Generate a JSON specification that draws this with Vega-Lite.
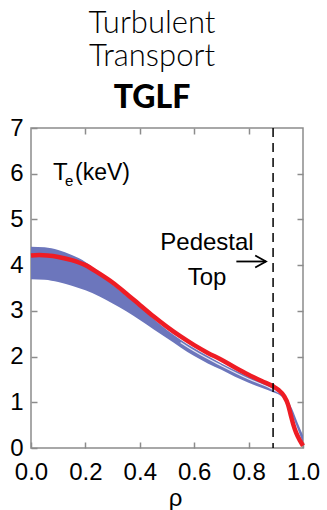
{
  "$schema": "https://vega.github.io/schema/vega-lite/v6.json",
  "width": 272,
  "height": 320,
  "autosize": {"type": "none"},
  "padding": {"left": 31, "top": 128, "right": 24, "bottom": 62},
  "background": "white",
  "config": {
    "view": {"stroke": "#8c8c8c", "strokeWidth": 1.5},
    "font": "Liberation Sans"
  },
  "title": {
    "text": ["Turbulent", "Transport"],
    "subtitle": "TGLF",
    "font": "Lato",
    "fontWeight": 300,
    "fontSize": 31,
    "lineHeight": 33,
    "color": "black",
    "subtitleFont": "Lato",
    "subtitleFontWeight": 900,
    "subtitleFontSize": 32,
    "subtitleColor": "black",
    "subtitlePadding": 10,
    "anchor": "middle",
    "dx": -15,
    "offset": 1
  },
  "datasets": {
    "band": [
      {"rho": 0.0, "lo": 3.69, "hi": 4.40},
      {"rho": 0.05, "lo": 3.68, "hi": 4.39},
      {"rho": 0.1, "lo": 3.63, "hi": 4.33},
      {"rho": 0.15, "lo": 3.55, "hi": 4.22},
      {"rho": 0.2, "lo": 3.45, "hi": 4.07},
      {"rho": 0.25, "lo": 3.32, "hi": 3.84},
      {"rho": 0.3, "lo": 3.16, "hi": 3.57},
      {"rho": 0.35, "lo": 2.99, "hi": 3.33},
      {"rho": 0.4, "lo": 2.80, "hi": 3.09},
      {"rho": 0.45, "lo": 2.60, "hi": 2.83},
      {"rho": 0.5, "lo": 2.40, "hi": 2.58},
      {"rho": 0.55, "lo": 2.20, "hi": 2.37},
      {"rho": 0.6, "lo": 2.01, "hi": 2.18},
      {"rho": 0.65, "lo": 1.85, "hi": 2.01},
      {"rho": 0.7, "lo": 1.71, "hi": 1.85},
      {"rho": 0.75, "lo": 1.56, "hi": 1.70},
      {"rho": 0.8, "lo": 1.43, "hi": 1.56},
      {"rho": 0.85, "lo": 1.31, "hi": 1.44},
      {"rho": 0.89, "lo": 1.22, "hi": 1.33},
      {"rho": 0.92, "lo": 1.13, "hi": 1.22},
      {"rho": 0.94, "lo": 0.98, "hi": 1.08},
      {"rho": 0.96, "lo": 0.72, "hi": 0.86},
      {"rho": 0.98, "lo": 0.42, "hi": 0.56},
      {"rho": 1.0, "lo": 0.10, "hi": 0.28}
    ],
    "mid": [
      {"rho": 0.55, "te": 2.31},
      {"rho": 0.6, "te": 2.12},
      {"rho": 0.7, "te": 1.80},
      {"rho": 0.8, "te": 1.51},
      {"rho": 0.88, "te": 1.31},
      {"rho": 0.92, "te": 1.19}
    ],
    "red": [
      {"rho": 0.0, "te": 4.21},
      {"rho": 0.03, "te": 4.22},
      {"rho": 0.06, "te": 4.21},
      {"rho": 0.1, "te": 4.18},
      {"rho": 0.15, "te": 4.11},
      {"rho": 0.2, "te": 4.0},
      {"rho": 0.25, "te": 3.82},
      {"rho": 0.3, "te": 3.62},
      {"rho": 0.35, "te": 3.38},
      {"rho": 0.4, "te": 3.13},
      {"rho": 0.45, "te": 2.88},
      {"rho": 0.5, "te": 2.65},
      {"rho": 0.55, "te": 2.44},
      {"rho": 0.6, "te": 2.25},
      {"rho": 0.65, "te": 2.08},
      {"rho": 0.7, "te": 1.93},
      {"rho": 0.75, "te": 1.76},
      {"rho": 0.8, "te": 1.60},
      {"rho": 0.85, "te": 1.46},
      {"rho": 0.89, "te": 1.35},
      {"rho": 0.91, "te": 1.27},
      {"rho": 0.93, "te": 1.14},
      {"rho": 0.945, "te": 0.95},
      {"rho": 0.955, "te": 0.72},
      {"rho": 0.965, "te": 0.50},
      {"rho": 0.975, "te": 0.33},
      {"rho": 0.99, "te": 0.15},
      {"rho": 1.0, "te": 0.05}
    ],
    "ped": [{"rho": 0.89}],
    "labels": [
      {"rho": 0.647, "te": 4.33, "label": "Pedestal"},
      {"rho": 0.647, "te": 3.57, "label": "Top"}
    ],
    "arrow": [{"x1": 0.755, "x2": 0.864, "te": 4.08}],
    "ylab": [{"rho": 0.081, "te": 5.86, "label": "T"}],
    "ysub": [{"rho": 0.125, "te": 5.73, "label": "e"}],
    "yunit": [{"rho": 0.162, "te": 5.86, "label": "(keV)"}]
  },
  "resolve": {"axis": {"x": "independent", "y": "independent"}},
  "layer": [
    {
      "data": {"name": "band"},
      "mark": {"type": "area", "color": "#6c76bc", "interpolate": "monotone"},
      "encoding": {
        "x": {
          "field": "rho", "type": "quantitative",
          "scale": {"domain": [0, 1], "nice": false, "zero": false},
          "axis": {
            "orient": "bottom", "title": "ρ", "values": [0, 0.2, 0.4, 0.6, 0.8, 1.0],
            "format": ".1f", "grid": false, "domain": false,
            "tickSize": -6, "tickColor": "#8c8c8c", "tickWidth": 1.5,
            "labelFont": "Liberation Sans", "labelFontSize": 24, "labelColor": "black",
            "labelPadding": 18, "labelFlush": false,
            "titleFont": "Liberation Sans", "titleFontSize": 24, "titleFontWeight": "normal",
            "titleColor": "black", "titlePadding": 2, "titleX": 144
          }
        },
        "y": {
          "field": "lo", "type": "quantitative",
          "scale": {"domain": [0, 7], "nice": false},
          "axis": {
            "orient": "left", "title": null, "values": [0, 1, 2, 3, 4, 5, 6, 7],
            "grid": false, "domain": false,
            "tickSize": -6, "tickColor": "#8c8c8c", "tickWidth": 1.5,
            "labelFont": "Liberation Sans", "labelFontSize": 24, "labelColor": "black",
            "labelPadding": 14, "labelFlush": false
          }
        },
        "y2": {"field": "hi"}
      }
    },
    {
      "data": {"name": "mid"},
      "mark": {"type": "line", "color": "#e6e8f4", "strokeWidth": 1.2, "interpolate": "monotone"},
      "encoding": {
        "x": {"field": "rho", "type": "quantitative", "axis": null},
        "y": {"field": "te", "type": "quantitative", "axis": null}
      }
    },
    {
      "data": {"name": "red"},
      "mark": {"type": "line", "color": "#ee1c24", "strokeWidth": 4.5, "interpolate": "monotone"},
      "encoding": {
        "x": {"field": "rho", "type": "quantitative", "axis": null},
        "y": {"field": "te", "type": "quantitative", "axis": null}
      }
    },
    {
      "data": {"name": "ped"},
      "mark": {"type": "rule", "color": "black", "strokeWidth": 1.5, "strokeDash": [9, 6]},
      "encoding": {
        "x": {
          "field": "rho", "type": "quantitative",
          "axis": {
            "orient": "top", "title": null, "labels": false, "values": [0.2, 0.4, 0.6, 0.8],
            "grid": false, "domain": false,
            "tickSize": -6, "tickColor": "#8c8c8c", "tickWidth": 1.5
          }
        }
      }
    },
    {
      "data": {"name": "labels"},
      "mark": {"type": "text", "font": "Liberation Sans", "fontSize": 24, "align": "center", "baseline": "alphabetic", "color": "black"},
      "encoding": {
        "x": {"field": "rho", "type": "quantitative", "axis": null},
        "y": {
          "field": "te", "type": "quantitative",
          "axis": {
            "orient": "right", "title": null, "labels": false, "values": [1, 2, 3, 4, 5, 6],
            "grid": false, "domain": false,
            "tickSize": -6, "tickColor": "#8c8c8c", "tickWidth": 1.5
          }
        },
        "text": {"field": "label"}
      }
    },
    {
      "data": {"name": "arrow"},
      "mark": {"type": "rule", "color": "black", "strokeWidth": 1.8},
      "encoding": {
        "x": {"field": "x1", "type": "quantitative", "axis": null},
        "x2": {"field": "x2"},
        "y": {"field": "te", "type": "quantitative", "axis": null}
      }
    },
    {
      "data": {"name": "arrow"},
      "mark": {"type": "point", "shape": "M-1.8,-1L0,0L-1.8,1", "size": 144, "filled": false, "stroke": "black", "strokeWidth": 1.8, "opacity": 1},
      "encoding": {
        "x": {"field": "x2", "type": "quantitative", "axis": null},
        "y": {"field": "te", "type": "quantitative", "axis": null}
      }
    },
    {
      "data": {"name": "ylab"},
      "mark": {"type": "text", "font": "Liberation Sans", "fontSize": 24, "align": "left", "baseline": "alphabetic", "color": "black"},
      "encoding": {
        "x": {"field": "rho", "type": "quantitative", "axis": null},
        "y": {"field": "te", "type": "quantitative", "axis": null},
        "text": {"field": "label"}
      }
    },
    {
      "data": {"name": "ysub"},
      "mark": {"type": "text", "font": "Liberation Sans", "fontSize": 15, "align": "left", "baseline": "alphabetic", "color": "black"},
      "encoding": {
        "x": {"field": "rho", "type": "quantitative", "axis": null},
        "y": {"field": "te", "type": "quantitative", "axis": null},
        "text": {"field": "label"}
      }
    },
    {
      "data": {"name": "yunit"},
      "mark": {"type": "text", "font": "Liberation Sans", "fontSize": 23, "align": "left", "baseline": "alphabetic", "color": "black"},
      "encoding": {
        "x": {"field": "rho", "type": "quantitative", "axis": null},
        "y": {"field": "te", "type": "quantitative", "axis": null},
        "text": {"field": "label"}
      }
    }
  ]
}
